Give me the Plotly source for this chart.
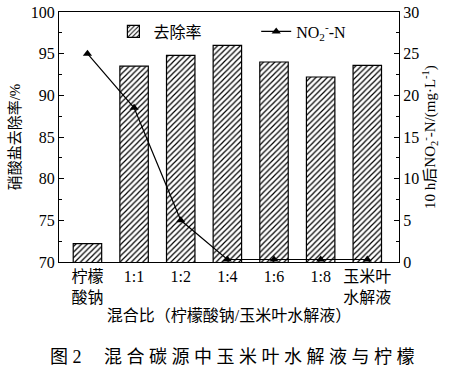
import plotly.graph_objects as go

categories = ["柠檬<br>酸钠", "1:1", "1:2", "1:4", "1:6", "1:8", "玉米叶<br>水解液"]
removal_rate = [72.2, 93.5, 94.8, 96.0, 94.0, 92.2, 93.6]
no2_n = [25.0, 18.5, 5.0, 0.3, 0.3, 0.3, 0.3]

FONT = "Liberation Serif, Times New Roman, Noto Sans CJK SC, serif"

fig = go.Figure()
fig.add_trace(go.Bar(
    x=categories, y=removal_rate, name="去除率",
    width=0.61,
    marker=dict(color="white", line=dict(color="black", width=1.2),
                pattern=dict(shape="/", fgcolor="black", bgcolor="white",
                             size=4, solidity=0.3)),
    yaxis="y", legend="legend",
))
fig.add_trace(go.Scatter(
    x=categories, y=no2_n, name="NO<sub>2</sub><sup>-</sup>-N",
    mode="lines+markers",
    line=dict(color="black", width=1.2),
    marker=dict(symbol="triangle-up", size=8, color="black"),
    cliponaxis=False,
    yaxis="y2", legend="legend2",
))

fig.update_layout(
    template="none",
    width=455, height=379,
    margin=dict(l=59, r=56, t=12, b=117),
    paper_bgcolor="white", plot_bgcolor="white",
    font=dict(family=FONT, size=15, color="black"),
    showlegend=True,
    legend=dict(x=0.16, y=0.99, xanchor="left", yanchor="top",
                bgcolor="rgba(0,0,0,0)", font=dict(size=16, family=FONT)),
    legend2=dict(x=0.58, y=0.99, xanchor="left", yanchor="top",
                 bgcolor="rgba(0,0,0,0)", font=dict(size=16, family=FONT)),
    xaxis=dict(type="category", range=[-0.61, 6.68], showline=True,
               linecolor="black", linewidth=1.2, ticks="", mirror=True,
               showgrid=False, automargin=False,
               tickfont=dict(size=16),
               title=dict(text="混合比（柠檬酸钠/玉米叶水解液）", font=dict(size=16), standoff=4)),
    yaxis=dict(range=[70, 100], dtick=5, showline=True, linecolor="black",
               linewidth=1.2, ticks="inside", ticklen=5, tickcolor="black",
               showgrid=False, zeroline=False, tickfont=dict(size=16), automargin=False,
               minor=dict(dtick=2.5, ticks="inside", ticklen=3, tickcolor="black"),
               title=dict(text="硝酸盐去除率/%", font=dict(size=15), standoff=6)),
    yaxis2=dict(range=[0, 30], dtick=5, overlaying="y", side="right",
                showline=True, linecolor="black", linewidth=1.2,
                ticks="inside", ticklen=5, tickcolor="black", automargin=False,
                showgrid=False, zeroline=False, tickfont=dict(size=16),
                minor=dict(dtick=2.5, ticks="inside", ticklen=3, tickcolor="black"),
                title=dict(text="10 h后NO<sub>2</sub><sup>-</sup>-N/(mg·L<sup>-1</sup>)",
                           font=dict(size=15), standoff=6)),
    annotations=[dict(text="图 2　 混 合 碳 源 中 玉 米 叶 水 解 液 与 柠 檬",
                      xref="paper", yref="paper", x=0.509, y=-0.38,
                      xanchor="center", yanchor="middle", showarrow=False,
                      font=dict(size=18, family=FONT))],
)

fig.write_html("out.html", config={"displayModeBar": False},
               post_script="document.body.style.margin='0';")
